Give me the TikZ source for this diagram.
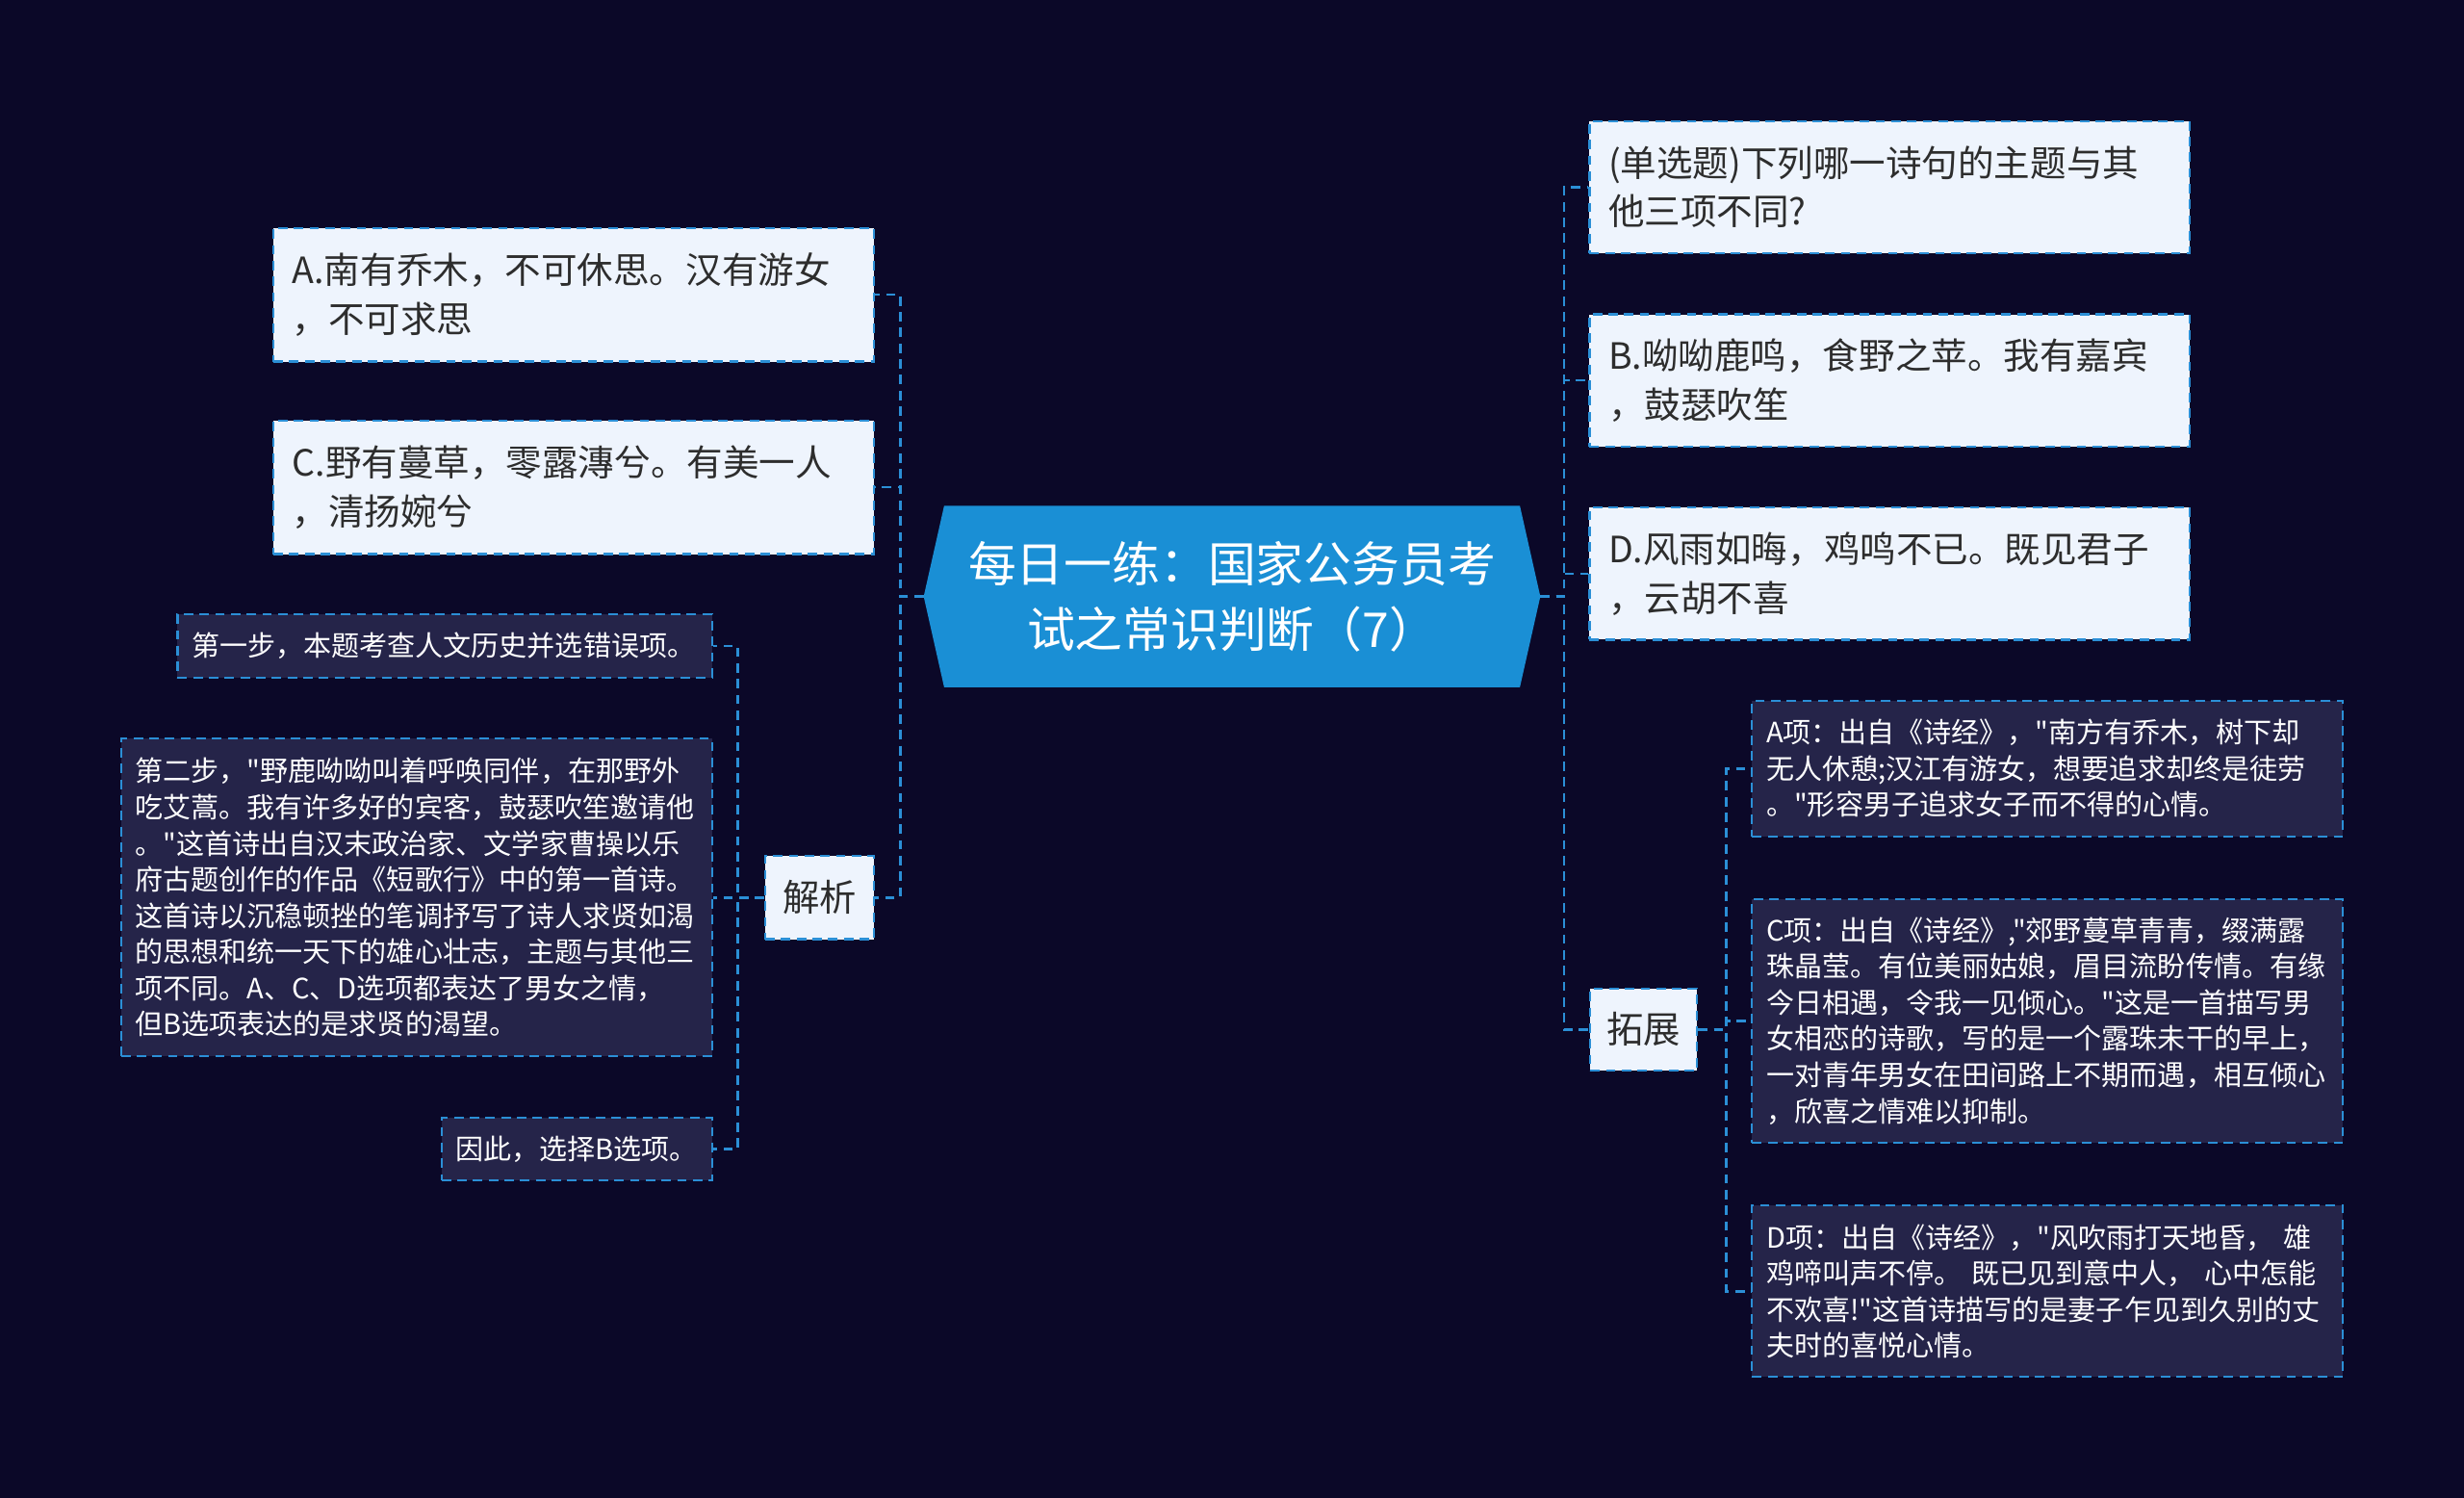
\documentclass[tikz,border=0pt]{standalone}
\usepackage{fontspec}
\setmainfont{Noto Sans CJK SC}[Ligatures=TeXOff]
\usetikzlibrary{backgrounds}
\definecolor{bgnavy}{HTML}{0B0828}
\definecolor{rootblue}{HTML}{1A8FD5}
\definecolor{lineblue}{HTML}{2B8FD6}
\definecolor{lightfill}{HTML}{EEF4FD}
\definecolor{darkfill}{HTML}{252449}
\definecolor{darktext}{HTML}{2D2D2D}
\begin{document}
\begin{tikzpicture}[x=1pt,y=-1pt,
  link/.style={draw=lineblue,line width=1.6pt,dash pattern=on 6pt off 4pt},
  rootbox/.style={text=white,font=\fontsize{30.5}{42}\selectfont,align=center,
    minimum width=392pt,minimum height=115pt,inner sep=0pt},
  lightbox/.style={draw=lineblue,line width=1.3pt,dash pattern=on 6pt off 4pt,
    fill=lightfill,text=darktext,font=\fontsize{23}{31}\selectfont,align=left,
    inner xsep=12pt,inner ysep=0pt,text width=358pt,minimum height=85pt},
  tagbox/.style={draw=lineblue,line width=1.3pt,dash pattern=on 6pt off 4pt,
    fill=lightfill,text=darktext,font=\fontsize{23.5}{31}\selectfont,
    inner sep=0pt,minimum width=69pt,minimum height=53pt},
  darkbox/.style={draw=lineblue,line width=1.3pt,dash pattern=on 6pt off 4pt,
    fill=darkfill,text=white,font=\fontsize{17.8}{23}\selectfont,align=left,
    inner xsep=9pt,inner ysep=0pt,text width=358pt}]
\useasboundingbox (0,0) rectangle (1568,953);
\begin{scope}[on background layer]
  \fill[bgnavy] (0,0) rectangle (1568,953);
\end{scope}

\node[rootbox] (root) at (784,379.5) {每日一练：国家公务员考\\试之常识判断（7）};
\begin{scope}[on background layer]
  \fill[rootblue] (root.west) -- ([xshift=13pt]root.north west) -- ([xshift=-13pt]root.north east)
    -- (root.east) -- ([xshift=-13pt]root.south east) -- ([xshift=13pt]root.south west) -- cycle;
\end{scope}

% left side
\node[lightbox] (qa) at (365,187.5) {A.南有乔木，不可休思。汉有游女\\，不可求思};
\node[lightbox] (qc) at (365,310) {C.野有蔓草，零露漙兮。有美一人\\，清扬婉兮};
\node[tagbox] (jiexi) at (521.5,571) {解析};
\node[darkbox,text width=322pt,minimum height=40pt] (step1) at (283,411) {第一步，本题考查人文历史并选错误项。};
\node[darkbox,minimum height=202pt] (step2) at (265,571) {第二步，"野鹿呦呦叫着呼唤同伴，在那野外\\吃艾蒿。我有许多好的宾客，鼓瑟吹笙邀请他\\。"这首诗出自汉末政治家、文学家曹操以乐\\府古题创作的作品《短歌行》中的第一首诗。\\这首诗以沉稳顿挫的笔调抒写了诗人求贤如渴\\的思想和统一天下的雄心壮志，主题与其他三\\项不同。A、C、D选项都表达了男女之情，\\但B选项表达的是求贤的渴望。};
\node[darkbox,text width=154pt,minimum height=40pt] (step3) at (367,731) {因此，选择B选项。};

% right side
\node[lightbox,minimum height=84pt] (ques) at (1202.5,119) {(单选题)下列哪一诗句的主题与其\\他三项不同?};
\node[lightbox,minimum height=84pt] (qb) at (1202.5,242) {B.呦呦鹿鸣，食野之苹。我有嘉宾\\，鼓瑟吹笙};
\node[lightbox,minimum height=84pt] (qd) at (1202.5,365) {D.风雨如晦，鸡鸣不已。既见君子\\，云胡不喜};
\node[tagbox,minimum width=68pt,minimum height=52pt] (tuozhan) at (1046,655) {拓展};
\node[darkbox,minimum height=86pt] (exta) at (1303,489) {A项：出自《诗经》，"南方有乔木，树下却\\无人休憩;汉江有游女，想要追求却终是徒劳\\。"形容男子追求女子而不得的心情。};
\node[darkbox,minimum height=155pt] (extc) at (1303,649.5) {C项：出自《诗经》,"郊野蔓草青青，缀满露\\珠晶莹。有位美丽姑娘，眉目流盼传情。有缘\\今日相遇，令我一见倾心。"这是一首描写男\\女相恋的诗歌，写的是一个露珠未干的早上，\\一对青年男女在田间路上不期而遇，相互倾心\\，欣喜之情难以抑制。};
\node[darkbox,minimum height=109pt] (extd) at (1303,821.5) {D项：出自《诗经》，"风吹雨打天地昏， 雄\\鸡啼叫声不停。 既已见到意中人， 心中怎能\\不欢喜!"这首诗描写的是妻子乍见到久别的丈\\夫时的喜悦心情。};

\draw[link] (root.west) -- ++(-15,0) |- (qa.east);
\draw[link] (root.west) -- ++(-15,0) |- (qc.east);
\draw[link] (root.west) -- ++(-15,0) |- (jiexi.east);
\draw[link] (jiexi.west) -- ++(-17,0) |- (step1.east);
\draw[link] (jiexi.west) -- ++(-17,0) |- (step2.east);
\draw[link] (jiexi.west) -- ++(-17,0) |- (step3.east);
\draw[link] (root.east) -- ++(15,0) |- (ques.west);
\draw[link] (root.east) -- ++(15,0) |- (qb.west);
\draw[link] (root.east) -- ++(15,0) |- (qd.west);
\draw[link] (root.east) -- ++(15,0) |- (tuozhan.west);
\draw[link] (tuozhan.east) -- ++(18,0) |- (exta.west);
\draw[link] (tuozhan.east) -- ++(18,0) |- (extc.west);
\draw[link] (tuozhan.east) -- ++(18,0) |- (extd.west);
\end{tikzpicture}
\end{document}
